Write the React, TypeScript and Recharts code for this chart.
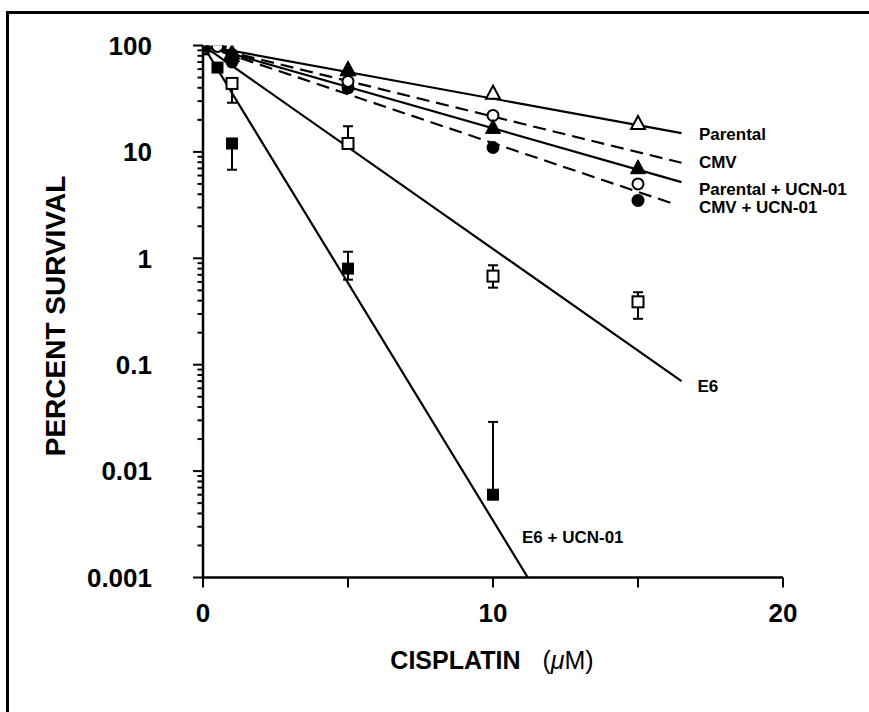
import React from 'react';
import { ComposedChart, Line, Scatter, XAxis, YAxis, ReferenceDot, ReferenceLine } from 'recharts';

const FONT = '"Liberation Sans", Arial, Helvetica, sans-serif';

// ---- axis ticks ----
const xTicks = [0, 5, 10, 15, 20];
const xTickLabels = ['0', '', '10', '', '20'];
const yMajorTicks = [0.001, 0.01, 0.1, 1, 10, 100];
const yTickLabels = ['0.001', '0.01', '0.1', '1', '10', '100'];
const decades = [0.001, 0.01, 0.1, 1, 10];
const minorMultipliers = [2, 3, 4, 5, 6, 7, 8, 9];
const yMinorTicks = decades.flatMap((d) => minorMultipliers.map((m) => +(d * m).toPrecision(3)));

// ---- series names ----
const seriesNames = ['Parental', 'CMV', 'Parental + UCN-01', 'CMV + UCN-01', 'E6', 'E6 + UCN-01'];

// ---- measured points ----
const parentalPts = [{ x: 0, y: 100 }, { x: 1, y: 86 }, { x: 5, y: 60 }, { x: 10, y: 36 }, { x: 15, y: 18.7 }];
const cmvPts = [{ x: 0, y: 100 }, { x: 0.5, y: 98 }, { x: 1, y: 82 }, { x: 5, y: 46 }, { x: 10, y: 22 }, { x: 15, y: 5.0 }];
const parUcnPts = [{ x: 0, y: 100 }, { x: 1, y: 80 }, { x: 5, y: 59 }, { x: 10, y: 17 }, { x: 15, y: 7.1 }];
const cmvUcnPts = [{ x: 0, y: 100 }, { x: 0.6, y: 100 }, { x: 1, y: 70 }, { x: 5, y: 40 }, { x: 10, y: 11 }, { x: 15, y: 3.5 }];
const e6Pts = [{ x: 0, y: 95 }, { x: 1, y: 44 }, { x: 5, y: 12 }, { x: 10, y: 0.68 }, { x: 15, y: 0.39 }];
const e6UcnPts = [{ x: 0, y: 92 }, { x: 0.5, y: 62 }, { x: 1, y: 12 }, { x: 5, y: 0.8 }, { x: 10, y: 0.006 }];

// ---- error bars (x, point, low, high) ----
const errX = [1, 5, 10, 15, 1, 5, 10];
const errPoint = [44, 12, 0.68, 0.39, 12, 0.8, 0.006];
const errLow = [29, 12, 0.53, 0.27, 6.8, 0.63, 0.006];
const errHigh = [44, 17.4, 0.86, 0.48, 12, 1.15, 0.029];

// ---- fitted regression lines (start, end) ----
const parentalFit = [{ x: 0, y: 100 }, { x: 16.5, y: 15 }];
const cmvFit = [{ x: 0, y: 100 }, { x: 16.5, y: 7.9 }];
const parUcnFit = [{ x: 0, y: 100 }, { x: 16.5, y: 5.2 }];
const cmvUcnFit = [{ x: 0, y: 100 }, { x: 16.3, y: 3.2 }];
const e6Fit = [{ x: 0, y: 100 }, { x: 16.5, y: 0.07 }];
const e6UcnFit = [{ x: 0, y: 100 }, { x: 11.2, y: 0.001 }];

// ---- curve label anchors ----
const labelX = [17.1, 17.1, 17.1, 17.1, 17.05, 11.0];
const labelY = [14.7, 8.0, 4.5, 3.05, 0.063, 0.0024];

const errorData = errX.map((x, i) => [
  { x, y: errLow[i], cap: errLow[i] < errPoint[i] },
  { x, y: errHigh[i], cap: errHigh[i] > errPoint[i] },
]);

const SW = 2.2;

const OpenTri = (p: any) => (
  <polygon points={`${p.cx},${p.cy - 7} ${p.cx - 7},${p.cy + 6} ${p.cx + 7},${p.cy + 6}`} fill="#fff" stroke="#000" strokeWidth={2} />
);
const FillTri = (p: any) => (
  <polygon points={`${p.cx},${p.cy - 8} ${p.cx - 7.5},${p.cy + 6} ${p.cx + 7.5},${p.cy + 6}`} fill="#000" stroke="#000" strokeWidth={1} />
);
const OpenCirc = (p: any) => <circle cx={p.cx} cy={p.cy} r={5.5} fill="#fff" stroke="#000" strokeWidth={2} />;
const FillCirc = (p: any) => <circle cx={p.cx} cy={p.cy} r={6.5} fill="#000" />;
const OpenSq = (p: any) => <rect x={p.cx - 5.5} y={p.cy - 5.5} width={11} height={11} fill="#fff" stroke="#000" strokeWidth={2} />;
const FillSq = (p: any) => <rect x={p.cx - 6} y={p.cy - 6} width={12} height={12} fill="#000" />;

const CapDot = (p: any) => {
  if (!p.payload || !p.payload.cap) return <g key={p.key} />;
  return <line key={p.key} x1={p.cx - 5} x2={p.cx + 5} y1={p.cy} y2={p.cy} stroke="#000" strokeWidth={2} />;
};

const YTick = (props: any) => {
  const { x, y, payload } = props;
  const idx = yMajorTicks.indexOf(payload.value);
  if (idx < 0) return <g />;
  return (
    <g>
      <line x1={x - 10} x2={x} y1={y} y2={y} stroke="#000" strokeWidth={2} />
      <text x={x - 51} y={y} dy="0.36em" textAnchor="end" fontFamily={FONT} fontWeight="bold" fontSize={26} fill="#000">
        {yTickLabels[idx]}
      </text>
    </g>
  );
};

const XTick = (props: any) => {
  const { x, y, payload } = props;
  const idx = xTicks.indexOf(payload.value);
  return (
    <g>
      <line x1={x} x2={x} y1={y} y2={y + 10} stroke="#000" strokeWidth={2} />
      {idx >= 0 && xTickLabels[idx] && (
        <text x={x} y={y + 35} dy="0.36em" textAnchor="middle" fontFamily={FONT} fontWeight="bold" fontSize={26} fill="#000">
          {xTickLabels[idx]}
        </text>
      )}
    </g>
  );
};

const fits = [
  { data: parentalFit, dash: undefined },
  { data: cmvFit, dash: '13 7' },
  { data: parUcnFit, dash: undefined },
  { data: cmvUcnFit, dash: '13 7' },
  { data: e6Fit, dash: undefined },
  { data: e6UcnFit, dash: undefined },
];

export default function App() {
  return (
    <div style={{ position: 'absolute', left: 0, top: 0, width: 869, height: 712, background: '#fff', overflow: 'hidden' }}>
      <div style={{ position: 'absolute', left: 6, top: 11, width: 869, height: 712, borderTop: '3px solid #000', borderLeft: '3px solid #000' }} />
      <ComposedChart
        width={869}
        height={712}
        margin={{ top: 45.5, right: 86, bottom: 94.5, left: 143 }}
        style={{ position: 'absolute', left: 0, top: 0 }}
      >
        <XAxis
          type="number"
          dataKey="x"
          domain={[0, 20]}
          ticks={xTicks}
          interval={0}
          height={40}
          tickSize={0}
          tickMargin={0}
          tick={<XTick />}
          axisLine={{ stroke: '#000', strokeWidth: 2.5 }}
          tickLine={false}
          allowDataOverflow
        />
        <YAxis
          type="number"
          dataKey="y"
          scale="log"
          domain={[0.001, 100]}
          ticks={yMajorTicks}
          interval={0}
          width={60}
          tickSize={0}
          tickMargin={0}
          tick={<YTick />}
          axisLine={{ stroke: '#000', strokeWidth: 2.5 }}
          tickLine={false}
          allowDataOverflow
        />
        {yMinorTicks.map((v) => (
          <ReferenceLine
            key={'minor' + v}
            segment={[{ x: -0.19, y: v }, { x: 0, y: v }]}
            stroke="#000"
            strokeWidth={2}
            ifOverflow="visible"
          />
        ))}
        {fits.map((f, i) => (
          <Line
            key={'fit' + i}
            data={f.data}
            dataKey="y"
            type="linear"
            stroke="#000"
            strokeWidth={SW}
            strokeDasharray={f.dash}
            dot={false}
            activeDot={false}
            isAnimationActive={false}
            legendType="none"
          />
        ))}
        {errorData.map((d, i) => (
          <Line
            key={'err' + i}
            data={d}
            dataKey="y"
            type="linear"
            stroke="#000"
            strokeWidth={2}
            dot={<CapDot />}
            activeDot={false}
            isAnimationActive={false}
            legendType="none"
          />
        ))}
        <Scatter name={seriesNames[5]} data={e6UcnPts} shape={<FillSq />} isAnimationActive={false} />
        <Scatter name={seriesNames[4]} data={e6Pts} shape={<OpenSq />} isAnimationActive={false} />
        <Scatter name={seriesNames[3]} data={cmvUcnPts} shape={<FillCirc />} isAnimationActive={false} />
        <Scatter name={seriesNames[1]} data={cmvPts} shape={<OpenCirc />} isAnimationActive={false} />
        <Scatter name={seriesNames[0]} data={parentalPts} shape={<OpenTri />} isAnimationActive={false} />
        <Scatter name={seriesNames[2]} data={parUcnPts} shape={<FillTri />} isAnimationActive={false} />
        {seriesNames.map((n, i) => (
          <ReferenceDot
            key={'lbl' + i}
            x={labelX[i]}
            y={labelY[i]}
            r={0}
            fill="none"
            stroke="none"
            ifOverflow="visible"
            label={{ value: n, position: 'right', offset: 0, fill: '#000', fontSize: 17, fontWeight: 'bold', fontFamily: FONT }}
          />
        ))}
      </ComposedChart>
      <svg width={869} height={712} style={{ position: 'absolute', left: 0, top: 0, pointerEvents: 'none' }}>
        <text transform="translate(65,316) rotate(-90)" textAnchor="middle" fontFamily={FONT} fontWeight="bold" fontSize={28} fill="#000">
          PERCENT SURVIVAL
        </text>
        <text x={492} y={669} textAnchor="middle" fontFamily={FONT} fontSize={25} fill="#000">
          <tspan fontWeight="bold">CISPLATIN</tspan>
          <tspan dx={22}>(</tspan>
          <tspan fontStyle="italic">μ</tspan>
          <tspan>M)</tspan>
        </text>
      </svg>
    </div>
  );
}
